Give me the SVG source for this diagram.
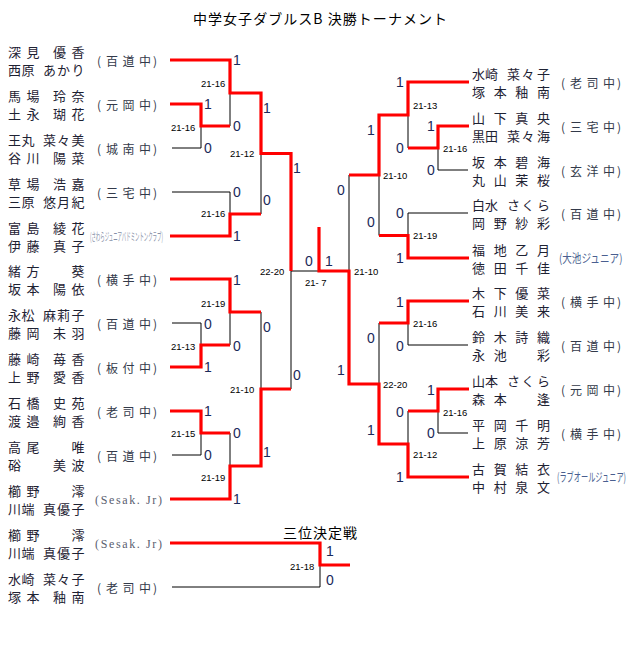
<svg xmlns="http://www.w3.org/2000/svg" width="640" height="645" viewBox="0 0 640 645">
<style>
.nm{font-family:"Noto Sans CJK JP","Liberation Sans",sans-serif;font-size:13px;fill:#1e2233}
.sc{font-family:"Noto Sans CJK JP","Liberation Sans",sans-serif;font-size:12px;fill:#333a4a}
.jr{font-family:"Noto Sans CJK JP","Liberation Sans",sans-serif;font-size:12px;fill:#4a5f90}
.tiny{font-family:"Noto Sans CJK JP","Liberation Sans",sans-serif;font-size:11px;fill:#8890a8}
.ss{font-family:"Liberation Serif",serif;font-size:12px;fill:#5a6070}
.d{font-family:"Liberation Sans",Arial,sans-serif;font-size:14px;fill:#1a2a5a;text-anchor:middle}
.m{font-family:"Liberation Sans",Arial,sans-serif;font-size:9.5px;fill:#000}
.t{font-family:"Noto Sans CJK JP","Liberation Sans",sans-serif;font-size:14px;fill:#000}
.w{fill:none;stroke:#ff0000;stroke-width:3.2}
.l{fill:none;stroke:#000;stroke-width:1}
</style>
<rect width="640" height="645" fill="#fff"/>
<text class="t" x="193" y="24" textLength="254" lengthAdjust="spacing">中学女子ダブルスB 決勝トーナメント</text>
<text class="t" x="283" y="538" font-size="13" textLength="74" lengthAdjust="spacing">三位決定戦</text>

<g id="connectors">
<g id="losers">
<path class="l" d="M172,148 H201 V126"/>
<path class="l" d="M230,93 V126"/>
<path class="l" d="M172,192 H230 V214"/>
<path class="l" d="M261,153.5 V214"/>
<path class="l" d="M261,312 V389"/>
<path class="l" d="M172,323 H201 V345"/>
<path class="l" d="M230,312 V345"/>
<path class="l" d="M230,433 V466"/>
<path class="l" d="M172,455 H201 V433"/>
<path class="l" d="M291,389 V271 H319"/>
<path class="l" d="M468,170 H438 V148"/>
<path class="l" d="M408,115 V148"/>
<path class="l" d="M468,213 H408 V235.5"/>
<path class="l" d="M379,175 V235.5"/>
<path class="l" d="M379,323 V384"/>
<path class="l" d="M468,345 H408 V323"/>
<path class="l" d="M408,411 V444"/>
<path class="l" d="M468,433 H438 V411"/>
<path class="l" d="M349,175 V271"/>
<path class="l" d="M172,587 H320 V565"/>
</g>
<g id="winners">
<path class="w" d="M170,60 H230 V93 H261 V153.5 H291 V271"/>
<path class="w" d="M170,104 H201 V126 H230"/>
<path class="w" d="M170,236 H230 V214 H261"/>
<path class="w" d="M170,279 H230 V312 H261"/>
<path class="w" d="M170,367 H201 V345 H230"/>
<path class="w" d="M170,411 H201 V433 H230"/>
<path class="w" d="M170,499 H230 V466 H261 V389 H291"/>
<path class="w" d="M469,82 H408 V115 H379 V175 H349"/>
<path class="w" d="M469,126 H438 V148 H408"/>
<path class="w" d="M469,258 H408 V235.5 H379"/>
<path class="w" d="M469,301 H408 V323 H379"/>
<path class="w" d="M469,389 H438 V411 H408"/>
<path class="w" d="M469,477 H408 V444 H379 V384 H349 V271 H319 V227"/>
<path class="w" d="M170,543 H320 V565 H350"/>
</g>
</g>

<g id="scores">
<text class="d" x="237" y="65">1</text><text class="d" x="237" y="131">0</text>
<text class="d" x="208" y="109">1</text><text class="d" x="208" y="153">0</text>
<text class="d" x="237" y="197">0</text><text class="d" x="237" y="241">1</text>
<text class="d" x="267" y="113">1</text><text class="d" x="267" y="205">0</text>
<text class="d" x="297" y="173">1</text>
<text class="d" x="237" y="285">1</text><text class="d" x="237" y="351">0</text>
<text class="d" x="208" y="329">0</text><text class="d" x="208" y="372">1</text>
<text class="d" x="208" y="416">1</text><text class="d" x="208" y="460">0</text>
<text class="d" x="237" y="438">0</text><text class="d" x="237" y="504">1</text>
<text class="d" x="267" y="332">0</text><text class="d" x="267" y="457">1</text>
<text class="d" x="297" y="380">0</text>
<text class="d" x="309" y="266">0</text><text class="d" x="329" y="266">1</text>
<text class="d" x="400" y="87">1</text><text class="d" x="400" y="153">0</text>
<text class="d" x="431" y="131">1</text><text class="d" x="431" y="175">0</text>
<text class="d" x="400" y="218">0</text><text class="d" x="400" y="263">1</text>
<text class="d" x="371" y="135">1</text><text class="d" x="371" y="227">0</text>
<text class="d" x="341" y="195">0</text>
<text class="d" x="400" y="307">1</text><text class="d" x="400" y="351">0</text>
<text class="d" x="431" y="395">1</text><text class="d" x="431" y="438">0</text>
<text class="d" x="400" y="417">0</text><text class="d" x="400" y="482">1</text>
<text class="d" x="371" y="343">0</text><text class="d" x="371" y="435">1</text>
<text class="d" x="341" y="375">1</text>
<text class="d" x="330" y="556">1</text><text class="d" x="330" y="585">0</text>
</g>

<g id="match-scores">
<text class="m" x="201" y="86.5">21-16</text>
<text class="m" x="171" y="130.5">21-16</text>
<text class="m" x="230" y="156.5">21-12</text>
<text class="m" x="201" y="216.5">21-16</text>
<text class="m" x="201" y="306.5">21-19</text>
<text class="m" x="171" y="349.5">21-13</text>
<text class="m" x="230" y="392.5">21-10</text>
<text class="m" x="171" y="436.5">21-15</text>
<text class="m" x="201" y="480.5">21-19</text>
<text class="m" x="260" y="274.5">22-20</text>
<text class="m" x="305" y="285.5">21- 7</text>
<text class="m" x="354" y="274.5">21-10</text>
<text class="m" x="413" y="108.5">21-13</text>
<text class="m" x="443" y="151.5">21-16</text>
<text class="m" x="383" y="178.5">21-10</text>
<text class="m" x="413" y="238.5">21-19</text>
<text class="m" x="413" y="326.5">21-16</text>
<text class="m" x="383" y="387.5">22-20</text>
<text class="m" x="443" y="415.5">21-16</text>
<text class="m" x="413" y="457.5">21-12</text>
<text class="m" x="290" y="569.5">21-18</text>
</g>

<g id="L1"><text class="nm" x="8 26.5 53 71.5" y="57">深見優香</text><text class="nm" x="8 21.5 43 57 71.5" y="74.5">西原あかり</text><text class="sc" x="97 106 122.5 139 153" y="65.5">(百道中)</text></g>
<g id="L2"><text class="nm" x="8 26.5 53 71.5" y="101">馬場玲奈</text><text class="nm" x="8 26.5 53 71.5" y="118.5">土永瑚花</text><text class="sc" x="97 106 122.5 139 153" y="109.5">(元岡中)</text></g>
<g id="L3"><text class="nm" x="8 21.5 43 57 71.5" y="145">王丸菜々美</text><text class="nm" x="8 26.5 53 71.5" y="162.5">谷川陽菜</text><text class="sc" x="97 106 122.5 139 153" y="153.5">(城南中)</text></g>
<g id="L4"><text class="nm" x="8 26.5 53 71.5" y="189">草場浩嘉</text><text class="nm" x="8 21.5 43 57 71.5" y="206.5">三原悠月紀</text><text class="sc" x="97 106 122.5 139 153" y="197.5">(三宅中)</text></g>
<g id="L5"><text class="nm" x="8 26.5 53 71.5" y="233">富島綾花</text><text class="nm" x="8 26.5 53 71.5" y="250.5">伊藤真子</text><text class="tiny" transform="translate(90,240.5) scale(0.4,1)" x="0" y="0">(さわらジュニアバドミントンクラブ)</text></g>
<g id="L6"><text class="nm" x="8 26.5 71.5" y="276">緒方葵</text><text class="nm" x="8 26.5 53 71.5" y="293.5">坂本陽依</text><text class="sc" x="97 106 122.5 139 153" y="284.5">(横手中)</text></g>
<g id="L7"><text class="nm" x="8 21.5 43 57 71.5" y="320">永松麻莉子</text><text class="nm" x="8 26.5 53 71.5" y="337.5">藤岡未羽</text><text class="sc" x="97 106 122.5 139 153" y="328.5">(百道中)</text></g>
<g id="L8"><text class="nm" x="8 26.5 53 71.5" y="364">藤崎苺香</text><text class="nm" x="8 26.5 53 71.5" y="381.5">上野愛香</text><text class="sc" x="97 106 122.5 139 153" y="372.5">(板付中)</text></g>
<g id="L9"><text class="nm" x="8 26.5 53 71.5" y="408">石橋史苑</text><text class="nm" x="8 26.5 53 71.5" y="425.5">渡邉絢香</text><text class="sc" x="97 106 122.5 139 153" y="416.5">(老司中)</text></g>
<g id="L10"><text class="nm" x="8 26.5 71.5" y="452">高尾唯</text><text class="nm" x="8 53 71.5" y="469.5">硲美波</text><text class="sc" x="97 106 122.5 139 153" y="460.5">(百道中)</text></g>
<g id="L11"><text class="nm" x="8 26.5 71.5" y="496">櫛野澪</text><text class="nm" x="8 21.5 43 57 71.5" y="513.5">川端真優子</text><text class="ss" x="95" y="503.5" textLength="67" lengthAdjust="spacing">(Sesak. Jr)</text></g>
<g id="L12"><text class="nm" x="8 26.5 71.5" y="540">櫛野澪</text><text class="nm" x="8 21.5 43 57 71.5" y="557.5">川端真優子</text><text class="ss" x="95" y="547.5" textLength="67" lengthAdjust="spacing">(Sesak. Jr)</text></g>
<g id="L13"><text class="nm" x="8 21.5 43 57 71.5" y="584">水崎菜々子</text><text class="nm" x="8 26.5 53 71.5" y="601.5">塚本釉南</text><text class="sc" x="97 106 122.5 139 153" y="592.5">(老司中)</text></g>

<g id="R1"><text class="nm" x="472 485 507 521.5 537" y="79">水崎菜々子</text><text class="nm" x="472 493.7 515.3 537" y="96.5">塚本釉南</text><text class="sc" x="561 570 586.5 603 617" y="87.5">(老司中)</text></g>
<g id="R2"><text class="nm" x="472 493.7 515.3 537" y="123">山下真央</text><text class="nm" x="472 485 507 521.5 537" y="140.5">黒田菜々海</text><text class="sc" x="561 570 586.5 603 617" y="131.5">(三宅中)</text></g>
<g id="R3"><text class="nm" x="472 493.7 515.3 537" y="167">坂本碧海</text><text class="nm" x="472 493.7 515.3 537" y="184.5">丸山茉桜</text><text class="sc" x="561 570 586.5 603 617" y="175.5">(玄洋中)</text></g>
<g id="R4"><text class="nm" x="472 485 507 521.5 537" y="210">白水さくら</text><text class="nm" x="472 493.7 515.3 537" y="227.5">岡野紗彩</text><text class="sc" x="561 570 586.5 603 617" y="218.5">(百道中)</text></g>
<g id="R5"><text class="nm" x="472 493.7 515.3 537" y="255">福地乙月</text><text class="nm" x="472 493.7 515.3 537" y="272.5">徳田千佳</text><text class="jr" transform="translate(559,263) scale(0.8,1)" x="0" y="0">(大池ジュニア)</text></g>
<g id="R6"><text class="nm" x="472 493.7 515.3 537" y="298">木下優菜</text><text class="nm" x="472 493.7 515.3 537" y="315.5">石川美来</text><text class="sc" x="561 570 586.5 603 617" y="306.5">(横手中)</text></g>
<g id="R7"><text class="nm" x="472 493.7 515.3 537" y="342">鈴木詩織</text><text class="nm" x="472 493.7 537" y="359.5">永池彩</text><text class="sc" x="561 570 586.5 603 617" y="350.5">(百道中)</text></g>
<g id="R8"><text class="nm" x="472 485 507 521.5 537" y="386">山本さくら</text><text class="nm" x="472 493.7 537" y="403.5">森本逢</text><text class="sc" x="561 570 586.5 603 617" y="394.5">(元岡中)</text></g>
<g id="R9"><text class="nm" x="472 493.7 515.3 537" y="430">平岡千明</text><text class="nm" x="472 493.7 515.3 537" y="447.5">上原涼芳</text><text class="sc" x="561 570 586.5 603 617" y="438.5">(横手中)</text></g>
<g id="R10"><text class="nm" x="472 493.7 515.3 537" y="474">古賀結衣</text><text class="nm" x="472 493.7 515.3 537" y="491.5">中村泉文</text><text class="jr" transform="translate(557,482) scale(0.6,1)" x="0" y="0">(ラブオールジュニア)</text></g>
</svg>
